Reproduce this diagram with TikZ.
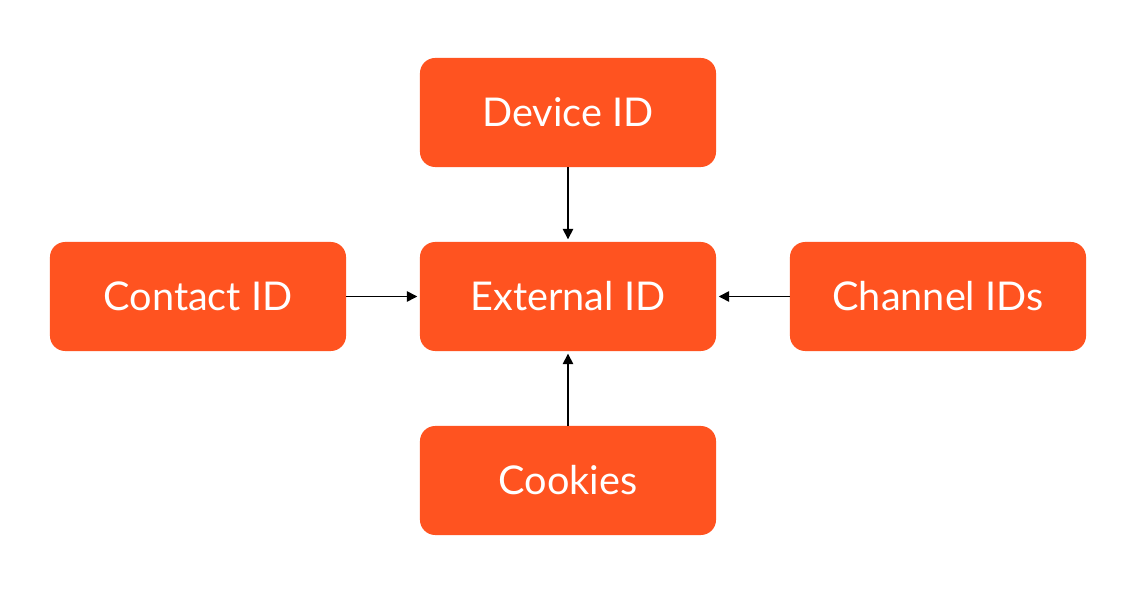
\documentclass[tikz,border=0pt]{standalone}
\usepackage{fontspec}
\setmainfont{Lato}
\usepackage{xcolor}
\usetikzlibrary{positioning, arrows.meta}
\definecolor{idorange}{HTML}{FF5320}

\begin{document}
\begin{tikzpicture}[x=0.025cm, y=-0.025cm,
        every node/.style={font=\fontsize{28.2}{32}\selectfont},
        idbox/.style={rectangle, fill=idorange, text=white, rounded corners=0.38cm, minimum width=7.4cm, minimum height=2.725cm, align=center, inner sep=0pt},
        arrow/.style={-{Triangle[length=0.26cm, width=0.26cm]}, line width=1.05pt, shorten >=0.06cm}
    ]
    \useasboundingbox (0,0) rectangle (1134,596);
%
    % Boxes
    \node[idbox] (ext) at (568, 296.5) {External ID};
    \node[idbox] (device) at (568, 112.5) {Device ID};
    \node[idbox] (contact) at (198, 296.5) {Contact ID};
    \node[idbox] (channel) at (938, 296.5) {Channel IDs};
    \node[idbox] (cookies) at (568, 480.5) {Cookies};
%
    % Arrows
    \draw[arrow] (device) -- (ext);
    \draw[arrow] (contact) -- (ext);
    \draw[arrow] (channel) -- (ext);
    \draw[arrow] (cookies) -- (ext);
%
\end{tikzpicture}
\end{document}
